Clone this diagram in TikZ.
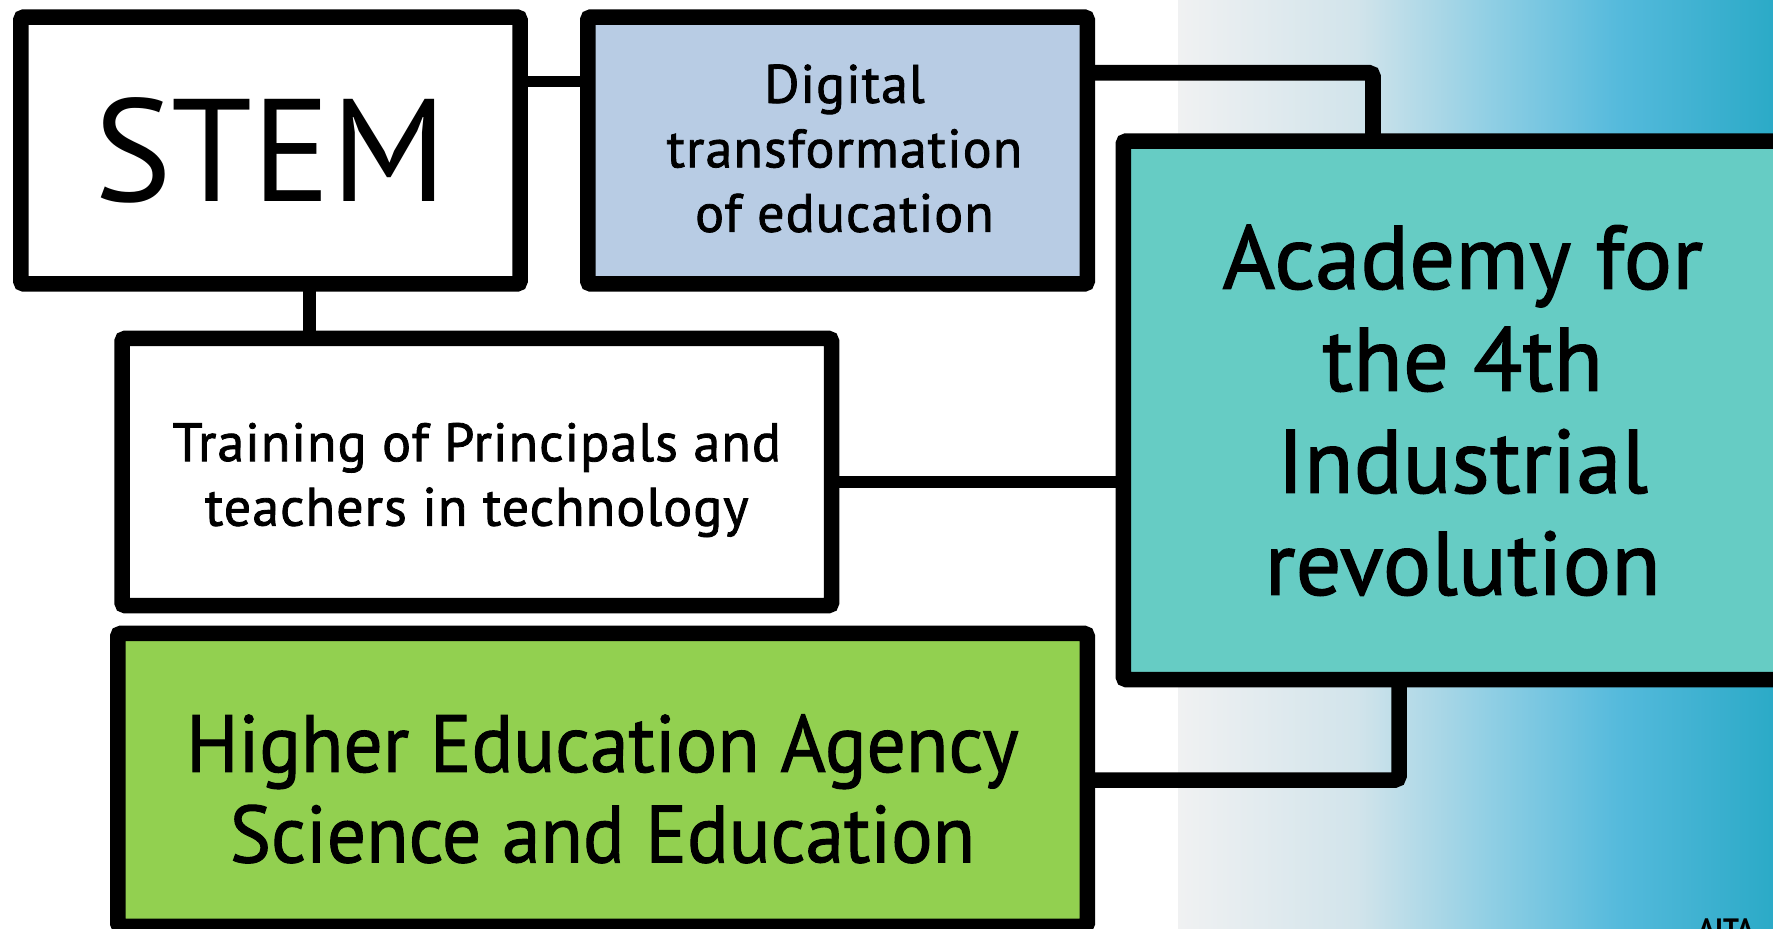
\documentclass[tikz,border=0pt]{standalone}
\usepackage{fontspec}
\setmainfont{PT Sans}
\newfontfamily\medfont[FakeBold=1.5, LetterSpace=2]{PT Sans}
\newfontfamily\acfont[FakeBold=1.5, LetterSpace=0.5]{PT Sans}
\newfontfamily\hefont[FakeBold=1.2, FakeStretch=0.958]{PT Sans}
\usetikzlibrary{backgrounds}
\definecolor{digblue}{RGB}{184,204,228}
\definecolor{acteal}{RGB}{102,204,196}
\definecolor{hegreen}{RGB}{146,208,80}
\definecolor{gA}{RGB}{240,241,242}
\definecolor{gB}{RGB}{210,228,235}
\definecolor{gC}{RGB}{145,207,228}
\definecolor{gD}{RGB}{85,186,220}
\definecolor{gE}{RGB}{43,170,199}
\pgfdeclarehorizontalshading{bggrad}{100bp}{color(0bp)=(gA); color(25bp)=(gA); color(40bp)=(gB); color(51bp)=(gC); color(62bp)=(gD); color(75bp)=(gE); color(100bp)=(gE)}
\begin{document}
\begin{tikzpicture}[x=1pt,y=-1pt,
  box/.style={draw=black, line width=15.5pt, rounded corners=3pt, inner sep=0pt, outer sep=0pt},
  txt/.style={inner sep=0pt, align=center, text=black},
  conn/.style={draw=black, rounded corners=4pt}]
\useasboundingbox (0,0) rectangle (1773,929);
\begin{scope}[on background layer]
  \fill[white] (0,0) rectangle (1773,929);
  \shade[shading=bggrad] (1178,0) rectangle (1773,929);
\end{scope}
% boxes
\node[box, fill=white, minimum width=499.2pt, minimum height=266.9pt] (stem) at (270.4,150.5) {};
\node[box, fill=digblue, minimum width=499.5pt, minimum height=266.9pt] (dig) at (837.5,150.5) {};
\node[box, fill=acteal, minimum width=679pt, minimum height=538.5pt] (acad) at (1462.75,410.3) {};
\node[box, fill=white, minimum width=709.5pt, minimum height=267.1pt] (train) at (476.8,472) {};
\node[box, fill=hegreen, minimum width=969.5pt, minimum height=292.8pt] (he) at (602.5,779.85) {};
% texts
\node[txt, font=\fontsize{146}{146}\selectfont] (stemtxt) at (stem.center) {STEM};
\node[txt, font=\medfont\fontsize{54}{64.5}\selectfont, xshift=7pt, yshift=2pt] (digtxt) at (dig.center) {Digital\\transformation\\of education};
\node[txt, font=\acfont\fontsize{90}{102}\selectfont] (acadtxt) at (acad.center) {Academy for\\the 4th\\Industrial\\revolution};
\node[txt, font=\medfont\fontsize{54}{64.5}\selectfont, yshift=-8pt] (traintxt) at (train.center) {Training of Principals and\\teachers in technology};
\node[txt, font=\hefont\fontsize{81}{90.5}\selectfont, yshift=-9pt] (hetxt) at (he.center) {Higher Education Agency\\Science and Education};
\node[anchor=north west, inner sep=0pt, font=\bfseries\fontsize{28}{28}\selectfont] (aita) at (1698,919) {AITA};
% connectors
\begin{scope}[on background layer]
  \draw[conn, line width=11.3pt] (stem.east |- 0,81.7) -- (dig.west |- 0,81.7);
  \draw[conn, line width=15.7pt] (dig.east |- 0,72.8) -| (acad.north -| 1373,0);
  \draw[conn, line width=12.3pt] (stem.south -| 309.5,0) -- (train.north -| 309.5,0);
  \draw[conn, line width=12.3pt] (train.east |- 0,482) -- (acad.west |- 0,482);
  \draw[conn, line width=15.5pt] (he.east |- 0,780) -| (acad.south -| 1399,0);
\end{scope}
\end{tikzpicture}
\end{document}
